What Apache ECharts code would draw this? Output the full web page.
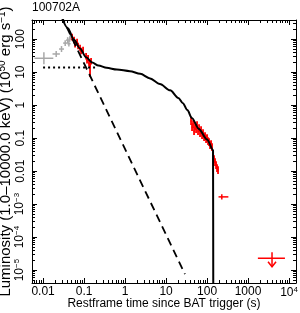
<!DOCTYPE html>
<html><head><meta charset="utf-8">
<script src="https://cdn.jsdelivr.net/npm/echarts@6/dist/echarts.min.js"></script>
<style>html,body{margin:0;padding:0;background:#fff}#c{width:300px;height:313px}</style>
</head><body><div id="c"></div>
<script>
// ---- tick labels / ranges (log10 units) ----
const chartTitle = '100702A';
const xTickLog = [-2, -1, 0, 1, 2, 3, 4];
const xTickLabels = ['0.01', '0.1', '1', '10', '100', '1000', '10{s|4}'];
const yTickLog = [-5, -4, -3, -2, -1, 0, 1, 2];
const yTickLabels = ['10{s|−5}', '10{s|−4}', '10{s|−3}', '0.01', '0.1', '1', '10', '100'];
const xRange = [-2.27, 4.17];
const yRange = [-5.39, 2.58];

// ---- model curves: [log10 t, log10 L] ----
const modelTotal = [[-1.56,2.72],[-1.40,2.34],[-1.25,1.99],[-1.10,1.72],[-0.95,1.45],[-0.80,1.29],[-0.65,1.20],[-0.45,1.13],[-0.20,1.08],[0.12,1.03],[0.37,0.95],[0.61,0.81],[0.85,0.64],[1.10,0.45],[1.30,0.22],[1.41,0.06],[1.52,-0.15],[1.63,-0.39],[1.80,-0.72],[2.00,-1.04],[2.146,-1.36],[2.152,-5.6]];
const steepPowerLaw = [[-1.56,2.72],[1.46,-5.12]];
const plateauLevel = [[-2.0,1.14],[-0.66,1.14]];

// ---- gray BAT points ----
const grayT = [-1.98, -1.68, -1.55, -1.46, -1.40, -1.37, -1.33, -1.35];
const grayL = [1.42, 1.55, 1.70, 1.88, 1.97, 1.86, 2.08, 2.00];
const grayTErr = [0.23, 0.09, 0.06, 0.05, 0.04, 0.04, 0.03, 0.03];
const grayLErr = [0.18, 0.09, 0.09, 0.09, 0.09, 0.08, 0.08, 0.08];

// ---- red BAT points ----
const batT = [-1.293,-1.244,-1.220,-1.171,-1.146,-1.098,-1.073,-1.024,-0.951,-0.927,-0.902,-0.878,-0.854,-0.829];
const batL = [2.06,1.97,1.85,1.91,1.79,1.73,1.64,1.67,1.48,1.36,1.42,1.27,1.18,1.33];
const batTErr = [0.02,0.02,0.02,0.02,0.02,0.02,0.02,0.02,0.02,0.02,0.02,0.02,0.02,0.02];
const batLErrLo = [0.10,0.10,0.10,0.10,0.10,0.10,0.10,0.10,0.10,0.10,0.10,0.10,0.33,0.10];
const batLErrHi = [0.10,0.10,0.10,0.10,0.10,0.10,0.10,0.10,0.10,0.10,0.10,0.10,0.10,0.10];

// ---- red XRT points ----
const xrtT = [1.610,1.634,1.659,1.683,1.707,1.732,1.756,1.780,1.805,1.829,1.854,1.878,1.902,1.927,1.951,1.976,2.000,2.024,2.049,2.073,2.098,2.122,2.146,2.171,2.195,2.220,2.244,2.268];
const xrtL = [-0.485,-0.667,-0.576,-0.788,-0.636,-0.727,-0.606,-0.788,-0.697,-0.848,-0.758,-0.909,-0.848,-0.970,-0.939,-1.030,-1.000,-1.091,-1.121,-1.212,-1.182,-1.273,-1.545,-1.636,-1.727,-1.818,-1.909,-1.970];
const xrtLErr = 0.12;
const xrtTErr = 0.012;

// ---- late XRT point and upper limit ----
const lateT = [2.36], lateTLo = [2.28], lateTHi = [2.52], lateL = [-2.78], lateLErr = [0.08];
const ulT = [3.585], ulTLo = [3.24], ulTHi = [3.90], ulL = [-4.64], ulTip = [-4.90];

const FONT = 'Liberation Sans, Arial, sans-serif';

function minorLogs(lo, hi) {
  const out = [];
  for (let n = Math.floor(lo); n <= Math.ceil(hi); n++)
    for (let k = 2; k <= 9; k++) { const v = n + Math.log10(k); if (v > lo && v < hi) out.push(v); }
  return out;
}
const xMinor = minorLogs(xRange[0], xRange[1]);
const yMinor = minorLogs(yRange[0], yRange[1]);

const rich = { s: { fontSize: 8, fontFamily: FONT, color: '#000', padding: [0, 0, 6, 0] } };

function axis(dir, pos, ticks, len, showLine, labels, extra) {
  const r = dir === 'x' ? xRange : yRange;
  const a = {
    type: 'value', position: pos, min: r[0], max: r[1], gridIndex: 0,
    axisLine: { show: showLine, onZero: false, lineStyle: { color: '#000', width: 1 } },
    axisTick: { show: true, inside: true, length: len, customValues: ticks, lineStyle: { color: '#000', width: 1 } },
    axisLabel: { show: false },
    splitLine: { show: false }
  };
  if (labels) {
    const vals = dir === 'x' ? xTickLog : yTickLog;
    const txt = dir === 'x' ? xTickLabels : yTickLabels;
    a.axisLabel = {
      show: true, customValues: vals, color: '#000', fontSize: 12, fontFamily: FONT,
      margin: dir === 'x' ? 3 : 5, rotate: dir === 'y' ? 90 : 0,
      formatter: v => { const i = vals.findIndex(t => Math.abs(t - v) < 1e-6); return i >= 0 ? txt[i] : ''; },
      rich: rich
    };
  }
  return Object.assign(a, extra || {});
}

function errRender(color, lw) {
  return function (params, api) {
    const t = api.value(0), l = api.value(1);
    const c = api.coord([t, l]);
    const xl = api.coord([api.value(2), l]), xh = api.coord([api.value(3), l]);
    const yl = api.coord([t, api.value(4)]), yh = api.coord([t, api.value(5)]);
    return { type: 'group', children: [
      { type: 'line', shape: { x1: xl[0], y1: c[1], x2: xh[0], y2: c[1] }, style: { stroke: color, lineWidth: lw } },
      { type: 'line', shape: { x1: c[0], y1: yl[1], x2: c[0], y2: yh[1] }, style: { stroke: color, lineWidth: lw } }
    ] };
  };
}

const grayData = grayT.map((t, i) => [t, grayL[i], t - grayTErr[i], t + grayTErr[i], grayL[i] - grayLErr[i], grayL[i] + grayLErr[i]]);
const batData = batT.map((t, i) => [t, batL[i], t - batTErr[i], t + batTErr[i], batL[i] - batLErrLo[i], batL[i] + batLErrHi[i]]);
const xrtData = xrtT.map((t, i) => [t, xrtL[i], t - xrtTErr, t + xrtTErr, xrtL[i] - xrtLErr, xrtL[i] + xrtLErr]);
const lateData = lateT.map((t, i) => [t, lateL[i], lateTLo[i], lateTHi[i], lateL[i] - lateLErr[i], lateL[i] + lateLErr[i]]);
const ulData = ulT.map((t, i) => [t, ulL[i], ulTLo[i], ulTHi[i], ulTip[i]]);

const option = {
  animation: false,
  backgroundColor: '#fff',
  title: { text: chartTitle, left: 32, top: 2, padding: 0, textStyle: { fontSize: 12, fontWeight: 'normal', color: '#000', fontFamily: FONT } },
  grid: { left: 32, right: 4, top: 20, bottom: 30, containLabel: false, outerBoundsMode: 'none' },
  xAxis: [
    axis('x', 'bottom', xTickLog, 5, true, true, {
      name: 'Restframe time since BAT trigger (s)', nameLocation: 'middle', nameGap: 15, nameMoveOverlap: false,
      nameTextStyle: { fontSize: 12, fontFamily: FONT, color: '#000' } }),
    axis('x', 'bottom', xMinor, 3, false, false),
    axis('x', 'top', xTickLog, 5, true, false),
    axis('x', 'top', xMinor, 3, false, false)
  ],
  yAxis: [
    axis('y', 'left', yTickLog, 5, true, true, {
      name: 'Luminosity (1.0–10000.0 keV) (10{s|50} erg s{s|−1})', nameLocation: 'middle', nameGap: 18, nameMoveOverlap: false,
      nameTextStyle: { fontSize: 15, fontFamily: FONT, color: '#000', rich: { s: { fontSize: 10, fontFamily: FONT, color: '#000', padding: [0, 0, 7, 0] } } } }),
    axis('y', 'left', yMinor, 3, false, false),
    axis('y', 'right', yTickLog, 5, true, false),
    axis('y', 'right', yMinor, 3, false, false)
  ],
  series: [
    { type: 'custom', name: 'gray', renderItem: errRender('#a8a8a8', 1.5), data: grayData, z: 2 },
    { type: 'custom', name: 'bat', renderItem: errRender('#ff0000', 1.8), data: batData, z: 3 },
    { type: 'custom', name: 'xrt', renderItem: errRender('#ff0000', 1.8), data: xrtData, z: 3 },
    { type: 'custom', name: 'late', renderItem: errRender('#ff0000', 1.5), data: lateData, z: 3 },
    { type: 'custom', name: 'ul', z: 3, data: ulData,
      renderItem: function (params, api) {
        const t = api.value(0), l = api.value(1);
        const c = api.coord([t, l]);
        const xl = api.coord([api.value(2), l]), xh = api.coord([api.value(3), l]);
        const tip = api.coord([t, api.value(4)]);
        const st = { stroke: '#ff0000', lineWidth: 1.5, fill: null };
        return { type: 'group', children: [
          { type: 'line', shape: { x1: xl[0], y1: c[1], x2: xh[0], y2: c[1] }, style: st },
          { type: 'line', shape: { x1: c[0], y1: c[1] - 6, x2: c[0], y2: tip[1] }, style: st },
          { type: 'polyline', shape: { points: [[tip[0] - 4, tip[1] - 5], [tip[0], tip[1]], [tip[0] + 4, tip[1] - 5]] }, style: st }
        ] };
      } },
    { type: 'line', name: 'plateau', data: plateauLevel, showSymbol: false, z: 4,
      lineStyle: { color: '#000', width: 1.8, type: [2, 3] } },
    { type: 'line', name: 'steep', data: steepPowerLaw, showSymbol: false, z: 4,
      lineStyle: { color: '#000', width: 1.8, type: [8, 5] } },
    { type: 'line', name: 'total', data: modelTotal, showSymbol: false, z: 5, smooth: 0.3, smoothMonotone: 'x',
      lineStyle: { color: '#000', width: 2 } }
  ]
};
const chart = echarts.init(document.getElementById('c'), null, { renderer: 'canvas' });
chart.setOption(option);
</script></body></html>
